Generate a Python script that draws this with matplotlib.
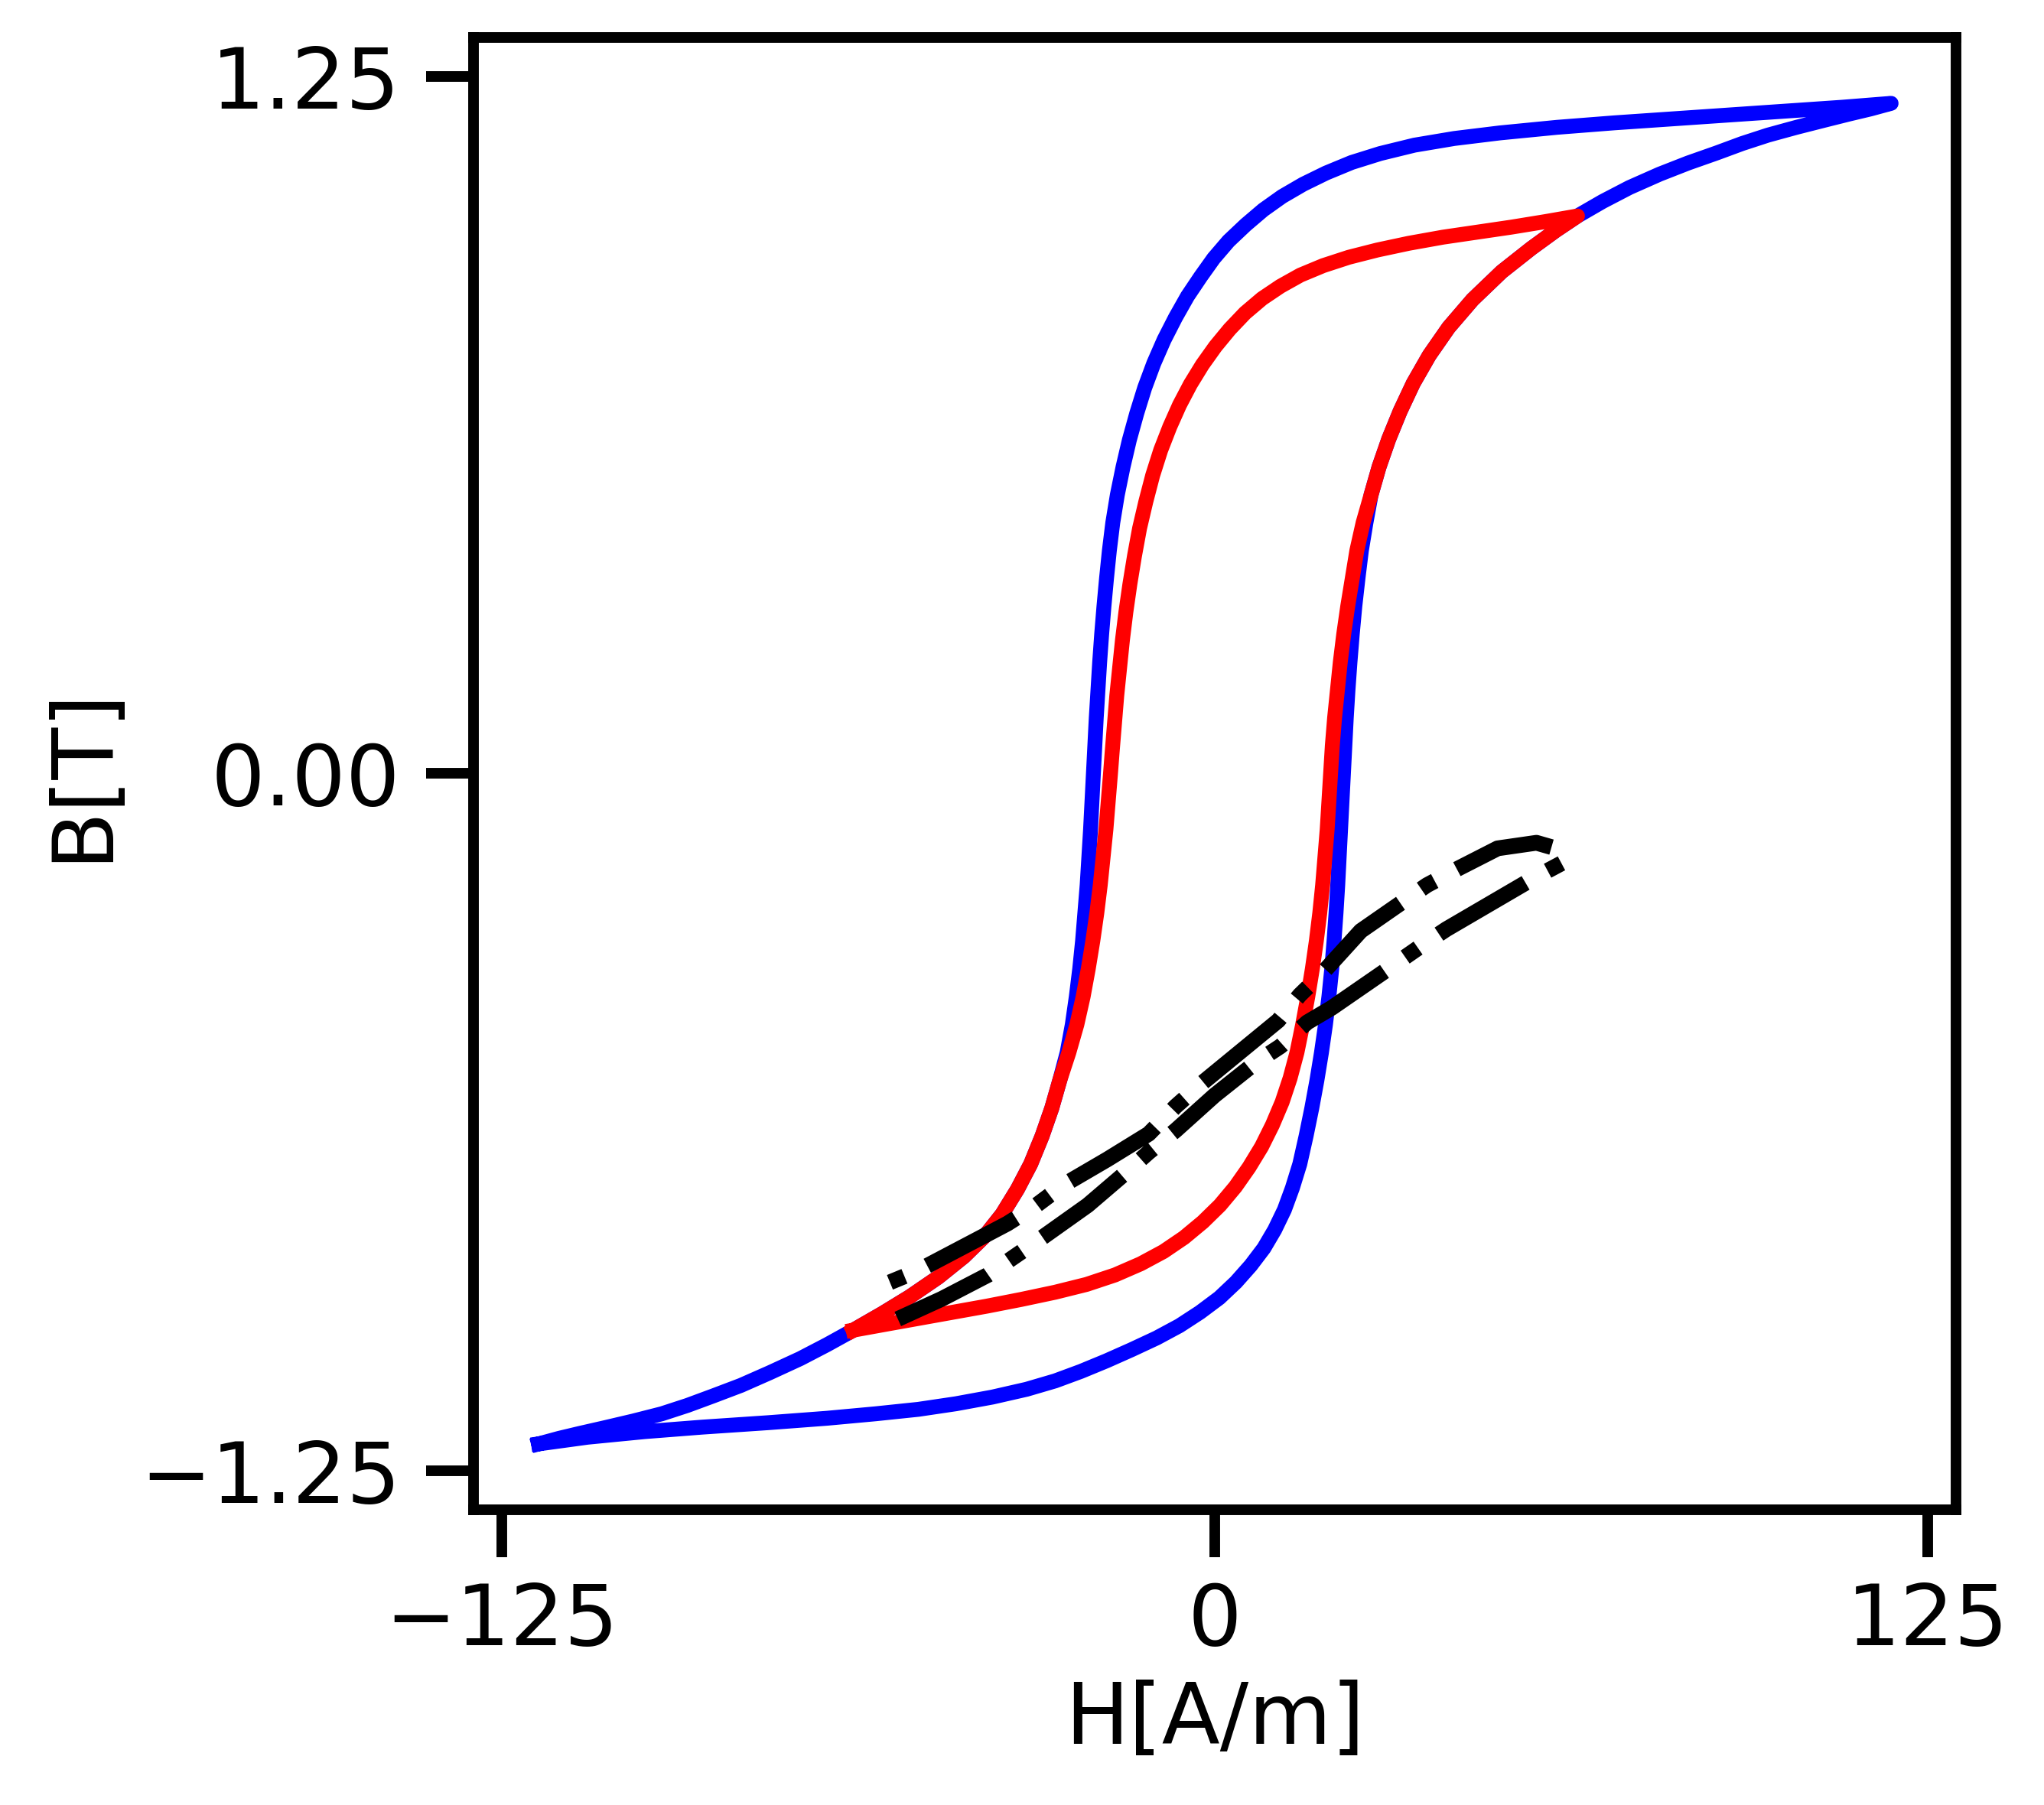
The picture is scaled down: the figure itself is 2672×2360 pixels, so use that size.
import matplotlib
matplotlib.use("Agg")
from matplotlib import pyplot as plt

# Major loop (blue): lower branch going up to the right tip
blue_up_H = [-118.6, -110, -100, -90, -78.4, -68, -59.5, -52, -45.4, -39, -33, -28,
             -23.5, -19, -14.6, -10.2, -6.2, -2.6, 0.8, 3.7, 6.3, 8.6, 10.5, 12.2, 13.6,
             14.9, 16, 17, 17.9, 18.7, 19.4, 20, 20.5, 20.9, 21.25, 21.55, 21.8, 22.05,
             22.3, 22.55, 22.8, 23.05, 23.35, 23.7, 24.1, 24.55, 25.1, 25.7, 26.5, 27.4,
             28.8, 30.5, 32.5, 34.8, 37.6, 41, 45.2, 50.3, 55.5, 59.8, 63.6, 68, 72.7,
             78, 83, 88, 92.5, 97, 102, 107, 111.3, 115, 118.6]
blue_up_B = [-1.202, -1.19, -1.18, -1.172, -1.164, -1.156, -1.148, -1.140, -1.130,
             -1.118, -1.104, -1.089, -1.072, -1.053, -1.033, -1.012, -0.99, -0.966,
             -0.94, -0.912, -0.882, -0.851, -0.818, -0.782, -0.743, -0.70, -0.65, -0.60,
             -0.55, -0.50, -0.45, -0.40, -0.35, -0.30, -0.25, -0.20, -0.15, -0.10, -0.05,
             0.0, 0.05, 0.10, 0.15, 0.20, 0.25, 0.30, 0.35, 0.40, 0.45, 0.50, 0.55, 0.60,
             0.65, 0.70, 0.75, 0.80, 0.85, 0.90, 0.942, 0.974, 1.0, 1.026, 1.051, 1.075,
             1.095, 1.113, 1.13, 1.145, 1.159, 1.172, 1.183, 1.192, 1.202]

# Major loop (blue): upper branch coming back to the left tip
blue_down_H = [118.6, 110, 100, 90, 80, 70, 60, 50, 42, 35, 29, 24, 19.5, 15.5, 11.8,
               8.5, 5.4, 2.4, -0.2, -2.5, -4.8, -6.9, -8.9, -10.7, -12.3, -13.7, -15,
               -16.1, -17.1, -17.9, -18.5, -19.0, -19.45, -19.85, -20.2, -20.5, -20.8,
               -21.05, -21.3, -21.55, -21.8, -22.1, -22.4, -22.8, -23.2, -23.7, -24.3,
               -25, -25.9, -27.2, -28.6, -30.3, -32.3, -34.6, -37.3, -40.4, -44, -48.5,
               -53.5, -58.3, -63.4, -68, -72.7, -78, -83.1, -88, -92.5, -97, -102, -107,
               -111.3, -115, -118.6]
blue_down_B = [1.202, 1.195, 1.188, 1.181, 1.174, 1.167, 1.159, 1.149, 1.139, 1.127,
               1.112, 1.096, 1.077, 1.057, 1.035, 1.011, 0.984, 0.955, 0.924, 0.891,
               0.856, 0.818, 0.778, 0.736, 0.692, 0.646, 0.598, 0.55, 0.50, 0.45, 0.40,
               0.35, 0.30, 0.25, 0.20, 0.15, 0.10, 0.05, 0.0, -0.05, -0.10, -0.15, -0.20,
               -0.25, -0.30, -0.35, -0.40, -0.45, -0.50, -0.55, -0.60, -0.65, -0.70,
               -0.745, -0.79, -0.83, -0.866, -0.903, -0.938, -0.968, -0.998, -1.024,
               -1.049, -1.074, -1.097, -1.116, -1.133, -1.148, -1.161, -1.173, -1.183,
               -1.192, -1.202]

# Minor loop (red): lower branch going up, then upper branch coming back
red_up_H = [-63.4, -58, -52, -46, -40, -34, -28, -22.5, -17.5, -13, -9, -5.4, -2.1, 0.9,
            3.6, 6, 8.2, 10.1, 11.8, 13.2, 14.4, 15.4, 16.3, 17.1, 17.8, 18.4, 18.9,
            19.3, 19.7, 20, 20.3, 20.6, 21, 21.5, 22, 22.6, 23.3, 24.1, 24.9, 26, 27.4,
            28.8, 30.5, 32.5, 34.8, 37.6, 41, 45.2, 50.3, 55.5, 59.8, 63.6]
red_up_B = [-0.998, -0.988, -0.977, -0.966, -0.955, -0.943, -0.930, -0.916, -0.899,
            -0.879, -0.857, -0.832, -0.804, -0.774, -0.741, -0.706, -0.669, -0.63,
            -0.589, -0.546, -0.50, -0.45, -0.40, -0.35, -0.30, -0.25, -0.20, -0.15,
            -0.10, -0.05, 0.0, 0.05, 0.10, 0.15, 0.20, 0.25, 0.30, 0.35, 0.40, 0.45,
            0.50, 0.55, 0.60, 0.65, 0.70, 0.75, 0.80, 0.85, 0.90, 0.942, 0.974, 1.0]
red_down_H = [63.6, 58, 52, 46, 40, 34, 28.5, 23.5, 19, 15, 11.5, 8.3, 5.3, 2.6, 0.1,
              -2.2, -4.3, -6.2, -7.9, -9.5, -10.9, -12.1, -13.2, -14.1, -14.9, -15.6,
              -16.2, -16.7, -17.2, -17.6, -18, -18.3, -18.7, -19.1, -19.6, -20.1, -20.7,
              -21.4, -22.2, -23.1, -24.2, -25.6, -27.2, -28.6, -30.3, -32.3, -34.6, -37.3,
              -40.4, -44, -48.5, -53.5, -58.3, -63.4]
red_down_B = [1.0, 0.99, 0.98, 0.971, 0.962, 0.951, 0.939, 0.926, 0.911, 0.894,
              0.874, 0.852, 0.826, 0.797, 0.766, 0.733, 0.698, 0.661, 0.622, 0.58, 0.535,
              0.488, 0.44, 0.39, 0.34, 0.29, 0.24, 0.19, 0.14, 0.09, 0.04, 0.0, -0.05,
              -0.10, -0.15, -0.20, -0.25, -0.30, -0.35, -0.40, -0.45, -0.50, -0.55,
              -0.60, -0.65, -0.70, -0.745, -0.79, -0.83, -0.866, -0.903, -0.938, -0.968,
              -0.998]

# Small loop (black, dash-dot)
black_H = [-55.6, -47.9, -39.8, -34.7, -30, -22.3, -15.9, -11.6, -6.9, -0.05, 7.2, 11.5,
           16.2, 20.5, 30.7, 35.9, 40.6, 56, 61.5, 59.8, 56.4, 49.6, 42.7, 37.2, 32.5,
           25.6, 19.2, 14.9, 11.1, -2.6, -6.9, -11.6, -18.9, -26.6, -31.3, -36.4, -52.2,
           -58.6]
black_B = [-0.978, -0.942, -0.899, -0.863, -0.830, -0.774, -0.718, -0.679, -0.640,
           -0.577, -0.518, -0.489, -0.446, -0.420, -0.348, -0.311, -0.279, -0.187,
           -0.157, -0.134, -0.124, -0.134, -0.170, -0.200, -0.233, -0.282, -0.354,
           -0.397, -0.443, -0.558, -0.597, -0.646, -0.692, -0.738, -0.774, -0.807,
           -0.892, -0.919]

xticks = [-125, 0, 125]
yticks = [-1.25, 0, 1.25]

plt.rcParams["font.family"] = ["DejaVu Sans"]
plt.rcParams["font.size"] = 20

fig, ax = plt.subplots(figsize=(6.68, 5.9), dpi=400)
fig.subplots_adjust(left=0.2317, right=0.957, bottom=0.1636, top=0.9792)

ax.plot(blue_up_H + blue_down_H[1:], blue_up_B + blue_down_B[1:], color="blue", lw=3.5)
ax.plot(red_up_H + red_down_H[1:], red_up_B + red_down_B[1:], color="red", lw=3.5)
ax.plot(black_H, black_B, "-.", color="black", lw=3.7)

ax.set_xlim(-130, 130)
ax.set_ylim(-1.32, 1.32)
ax.set_xticks(xticks)
ax.set_yticks(yticks)
ax.set_yticklabels(["\u22121.25", "0.00", "1.25"])
ax.tick_params(axis="both", direction="out", length=11.2, width=2.5, labelsize=20)
ax.tick_params(axis="x", pad=5.5)
ax.tick_params(axis="y", pad=6)
for s in ax.spines.values():
    s.set_linewidth(2.5)

ax.set_xlabel("H[A/m]", fontsize=20, labelpad=4)
ax.set_ylabel("B[T]", fontsize=20, labelpad=4)

plt.savefig("out.png", dpi=400)
